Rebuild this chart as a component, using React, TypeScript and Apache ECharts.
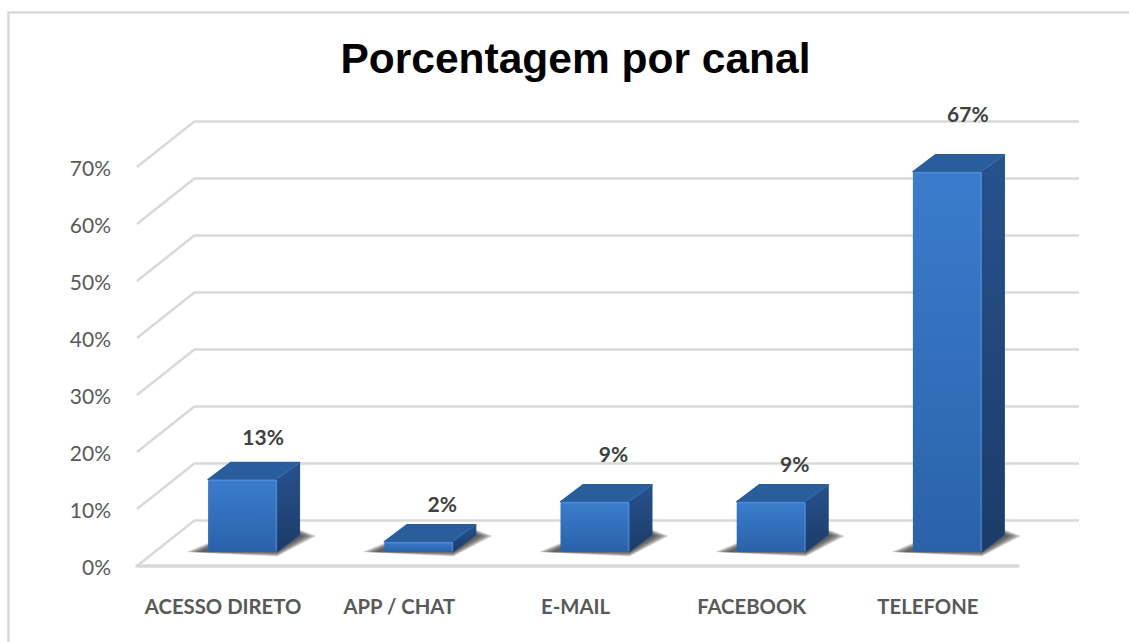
import React, { useEffect, useRef } from "react";
import * as echarts from "echarts";

const titleText = "Porcentagem por canal";
const categories = ["ACESSO DIRETO", "APP / CHAT", "E-MAIL", "FACEBOOK", "TELEFONE"];
const values = [12.7, 1.8, 8.8, 8.8, 66.7];
const valueLabels = ["13%", "2%", "9%", "9%", "67%"];
const labelLift = [25, 20, 30, 20, 40];
const labelShift = [1, 4, -1, 4, 1];
const tickValues = [0, 10, 20, 30, 40, 50, 60, 70];

const GRID = "#d9d9d9";
const DEPTH_X = 58;
const DEPTH_Y = -46;
const BAR_W = 69;
const BAR_DX = 17.5;
const BAR_DY = -14;
const BAR_DEPTH_X = 22.5;
const BAR_DEPTH_Y = -17;
const SHADOW_STEPS = 14;

const vGrad = (a: string, b: string) =>
  new echarts.graphic.LinearGradient(0, 0, 0, 1, [
    { offset: 0, color: a },
    { offset: 1, color: b },
  ]);

export default function App() {
  const ref = useRef<HTMLDivElement>(null);
  useEffect(() => {
    const chart = echarts.init(ref.current!, undefined, { renderer: "svg" });
    const font = "Lato, Carlito, sans-serif";
    chart.setOption({
      animation: false,
      backgroundColor: "#ffffff",
      title: {
        text: titleText,
        left: 570.5,
        top: 32,
        textAlign: "center",
        textStyle: { fontFamily: "'Liberation Sans', Arial, sans-serif", fontSize: 42.5, fontWeight: "bold", color: "#000000" },
      },
      graphic: [
        {
          type: "polyline",
          shape: { points: [[8.5, 642], [8.5, 12.5], [1129, 12.5]] },
          style: { fill: "none", stroke: GRID, lineWidth: 2.5 },
          silent: true,
        },
      ],
      grid: [
        { left: 137, right: 1129 - 1018, top: 167, bottom: 642 - 566 },
        { left: 137 + DEPTH_X, right: 1129 - 1079, top: 121, bottom: 642 - 520 },
      ],
      xAxis: [
        {
          type: "category",
          gridIndex: 0,
          data: categories,
          axisLine: { show: true, lineStyle: { color: GRID, width: 3.5 } },
          axisTick: { show: false },
          axisLabel: { interval: 0, margin: 30, padding: [0, 4, 0, 0], fontFamily: font, fontSize: 20.3, fontWeight: "bold", color: "#595959" },
        },
        {
          type: "category",
          gridIndex: 1,
          data: categories,
          axisLine: { show: false },
          axisTick: { show: false },
          axisLabel: { show: false },
        },
      ],
      yAxis: [
        {
          type: "value",
          gridIndex: 0,
          min: 0,
          max: 70,
          interval: 10,
          axisLine: { show: false },
          axisTick: { show: false },
          splitLine: { show: false },
          axisLabel: { formatter: "{value}%", margin: 26, fontFamily: font, fontSize: 21, color: "#595959" },
        },
        {
          type: "value",
          gridIndex: 1,
          min: 0,
          max: 70,
          interval: 10,
          axisLine: { show: false },
          axisTick: { show: false },
          axisLabel: { show: false },
          splitLine: { show: true, lineStyle: { color: GRID, width: 2.5 } },
        },
      ],
      series: [
        {
          type: "custom",
          xAxisIndex: 0,
          yAxisIndex: 0,
          silent: true,
          z: 1,
          data: tickValues.map((v) => [0, v]),
          renderItem: (p: any, api: any) => {
            const [, y] = api.coord([0, api.value(1)]);
            const x = p.coordSys.x;
            return {
              type: "line",
              shape: { x1: x, y1: y, x2: x + DEPTH_X, y2: y + DEPTH_Y },
              style: { stroke: GRID, lineWidth: 2.5 },
            };
          },
        },
        {
          type: "custom",
          xAxisIndex: 0,
          yAxisIndex: 0,
          silent: true,
          z: 3,
          data: categories.map((c, i) => [i, values[i]]),
          renderItem: (p: any, api: any) => {
            const i = api.value(0);
            const [cx, y0] = api.coord([i, 0]);
            const [, yv] = api.coord([i, api.value(1)]);
            const l = cx + BAR_DX - BAR_W / 2;
            const r = l + BAR_W;
            const b = y0 + BAR_DY;
            const t = yv + BAR_DY;
            const dx = BAR_DEPTH_X;
            const dy = BAR_DEPTH_Y;
            // soft contact shadow: stacked translucent outlines that tighten step by step
            const shadow = Array.from({ length: SHADOW_STEPS }, (_, k) => {
              const g = SHADOW_STEPS - 1 - k;
              return {
                type: "polygon",
                shape: {
                  points: [
                    [l - 8 - g * 1.1, b],
                    [r, b + g * 0.35],
                    [r + dx + 3 + g * 1.1, b + dy + 1],
                    [r + dx, b + dy - 1 - g * 0.35],
                    [l, b - 4 - g * 0.4],
                  ],
                },
                style: { fill: "rgba(40,40,40,0.09)" },
              };
            });
            return {
              type: "group",
              children: [
                ...shadow,
                {
                  type: "polygon",
                  shape: { points: [[l, t], [l + dx, t + dy], [r + dx, t + dy], [r, t]] },
                  style: { fill: "#2a5d9b", stroke: "#2a5d9b", lineWidth: 1.5, lineJoin: "round" },
                },
                {
                  type: "polygon",
                  shape: { points: [[r, t], [r + dx, t + dy], [r + dx, b + dy], [r, b]] },
                  style: { fill: vGrad("#27528e", "#1c3b69"), stroke: "#234a80", lineWidth: 1, lineJoin: "round" },
                },
                {
                  type: "line",
                  shape: { x1: r, y1: t - 1, x2: r + dx, y2: t + dy },
                  style: { stroke: "#3668a8", lineWidth: 1.5 },
                },
                {
                  type: "rect",
                  shape: { x: l, y: t, width: BAR_W, height: b - t, r: 2 },
                  style: { fill: vGrad("#3b7cce", "#2a62a8") },
                },
                {
                  type: "line",
                  shape: { x1: l + 2, y1: t + 1, x2: r - 1, y2: t + 1 },
                  style: { stroke: "#4a8ad8", lineWidth: 1.5 },
                },
                {
                  type: "line",
                  shape: { x1: r - 1, y1: t + 1, x2: r - 1, y2: b - 1 },
                  style: { stroke: "rgba(90,150,225,0.5)", lineWidth: 1.5 },
                },
                {
                  type: "text",
                  x: r - BAR_W / 2 + dx - 3 + labelShift[i],
                  y: t + dy - labelLift[i] - 1,
                  style: {
                    text: valueLabels[i],
                    fontFamily: font,
                    fontSize: 21,
                    fontWeight: "bold",
                    fill: "#404040",
                    align: "center",
                    verticalAlign: "middle",
                  },
                },
              ],
            };
          },
        },
      ],
    });
    return () => chart.dispose();
  }, []);
  return <div ref={ref} style={{ position: "fixed", left: 0, top: 0, width: 1129, height: 642 }} />;
}
